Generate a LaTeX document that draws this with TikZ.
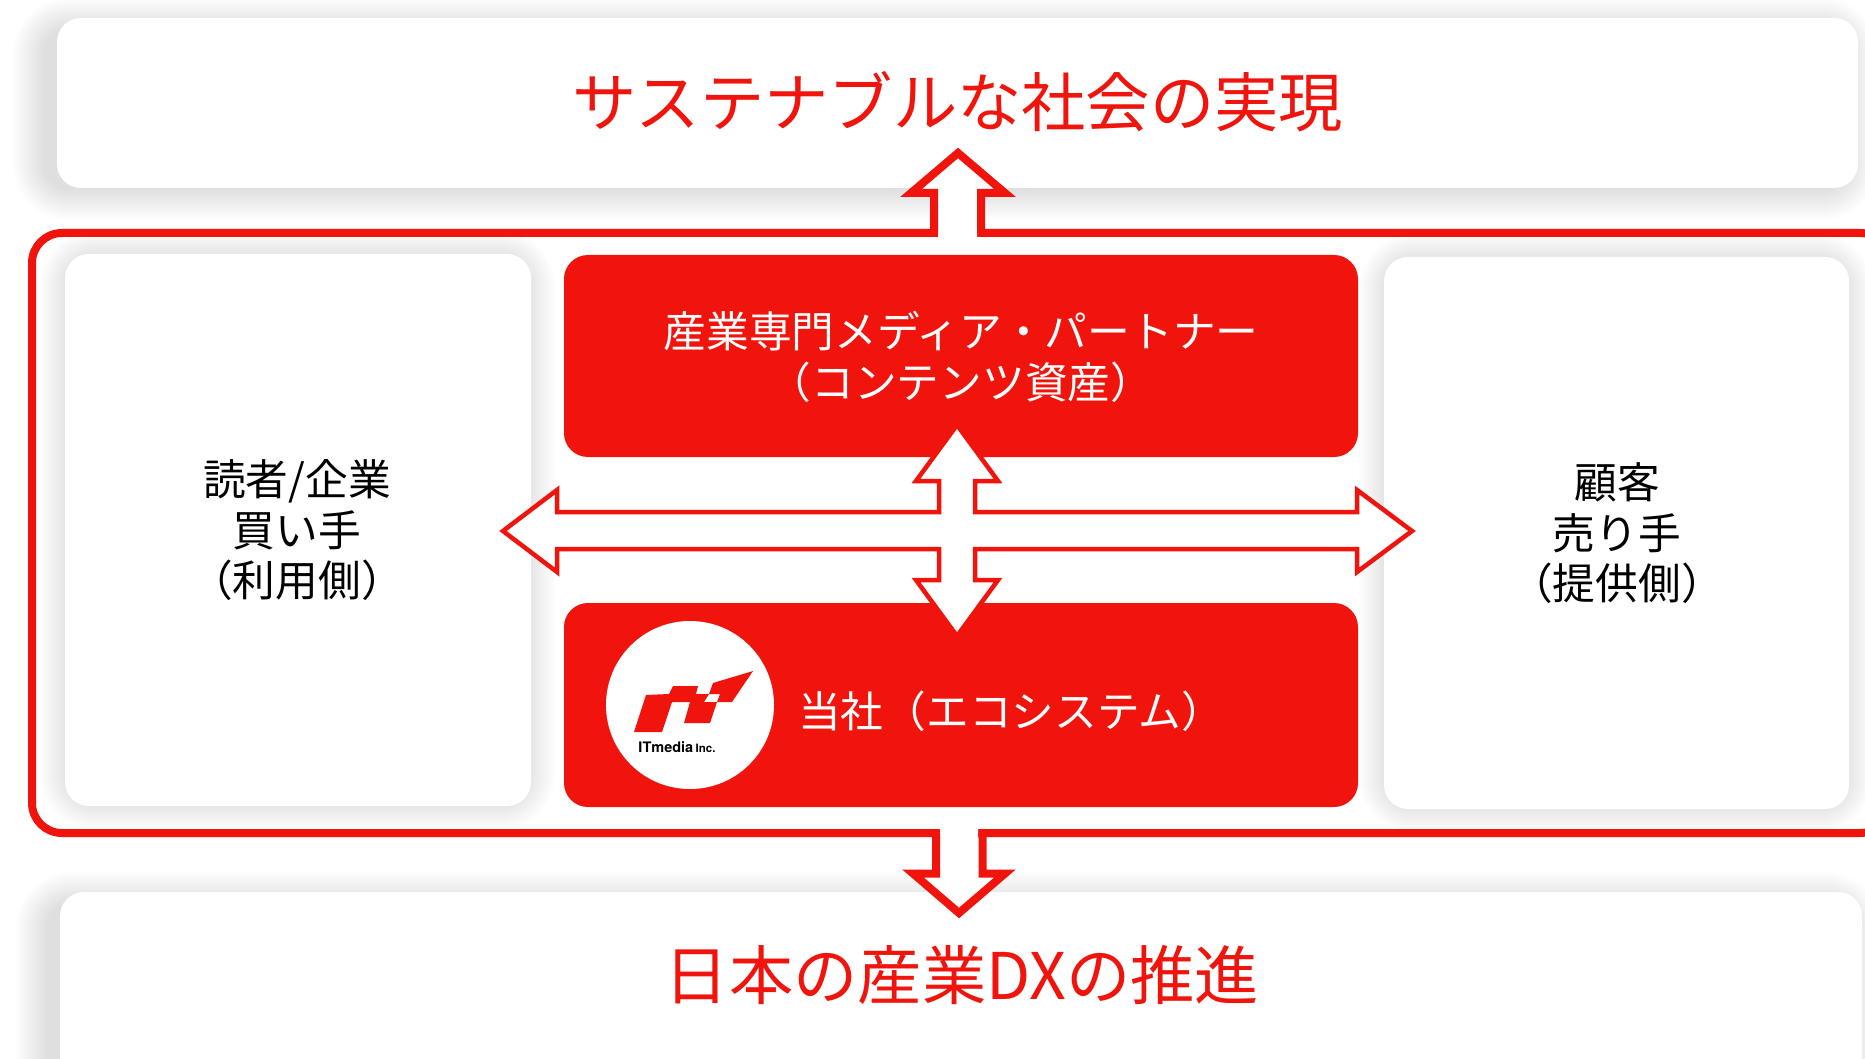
\documentclass[tikz,border=0pt]{standalone}
\usepackage{fontspec}
\setmainfont{Noto Sans CJK JP}
\newfontfamily\logofont{TeX Gyre Heros}
\usepackage{tikz}
\usetikzlibrary{positioning,calc}

\definecolor{itred}{HTML}{F1140C}

\tikzset{
    softlayer/.style={fill=black,opacity=0.007},
    whitepanel/.style={fill=white,rounded corners=24pt},
    redpanel/.style={fill=itred,rounded corners=24pt},
    titletext/.style={text=itred,font=\fontsize{64.3pt}{70pt}\selectfont,inner sep=0pt},
    boxtext/.style={align=center,font=\fontsize{42.7pt}{50.5pt}\selectfont,inner sep=0pt},
    blockarrow/.style={draw=itred,line width=4.5pt,fill=white,miter limit=10},
}

% blurred shadow under a panel: x1,y1,x2,y2,shift x
\newcommand{\softshadow}[5]{
    \foreach \k in {1,...,16}
        \fill[softlayer,rounded corners=(24+2*\k)*1pt]
            (#1-2*\k+#5,#2-2*\k) rectangle (#3+2*\k+#5,#4+2*\k);
}

\begin{document}
\begin{tikzpicture}[x=1pt,y=-1pt]
    \useasboundingbox (0,0) rectangle (1865,1059);
    \fill[white] (0,0) rectangle (1865,1059);

    % Top and bottom panels
    \softshadow{57}{30}{1858}{188}{-12}
    \softshadow{60}{904}{1862}{1090}{-12}
    \fill[whitepanel] (57,18) rectangle (1858,188);
    \fill[whitepanel] (60,892) rectangle (1862,1090);

    % Side panels
    \softshadow{72}{262}{523}{798}{0}
    \softshadow{1391}{265}{1841}{801}{0}
    \fill[whitepanel] (65,254) rectangle (531,806);
    \fill[whitepanel] (1384,257) rectangle (1849,809);

    % Red frame
    \draw[itred,line width=8pt,rounded corners=30pt] (32,233) rectangle (1890,833);

    % Middle panels
    \fill[redpanel] (564,255) rectangle (1358,457);
    \fill[redpanel] (564,603) rectangle (1358,807);

    % Logo
    \fill[white] (690,705) circle (84);
    \fill[itred] (634,732) -- (646,695) -- (669,694) -- (673,686) -- (698,686)
        -- (696,694) -- (709,694) -- (704,702) -- (717,702) -- (710,723) -- (684,723)
        -- (690,702) -- (672,702) -- (662,732) -- cycle;
    \fill[itred] (713,683) -- (753,671) -- (732,702) -- (717,702) -- (720,694) -- (709,694) -- cycle;
    \node[inner sep=0pt,font=\logofont\bfseries\fontsize{14.5pt}{15pt}\selectfont] (logotext) at (677,747)
        {ITmedia\,{\fontsize{11.5pt}{12pt}\selectfont Inc.}};

    % Cross arrow
    \draw[blockarrow] (957,425) -- (998,481) -- (975,481) -- (975,512) -- (1357,512)
        -- (1357,490) -- (1412,531) -- (1357,572) -- (1357,549) -- (975,549)
        -- (975,580) -- (998,580) -- (957,636) -- (916,580) -- (939,580)
        -- (939,549) -- (557,549) -- (557,572) -- (503,531) -- (557,490)
        -- (557,512) -- (939,512) -- (939,481) -- (916,481) -- cycle;

    % Up arrow
    \fill[white] (938,243) -- (938,193) -- (911,193) -- (958,153) -- (1005,193) -- (977,193) -- (977,243) -- cycle;
    \draw[itred,line width=8pt,miter limit=10] (934,233) -- (934,193) -- (911,193) -- (958,153)
        -- (1005,193) -- (981,193) -- (981,233);

    % Down arrow
    \fill[white] (940,828) -- (940,873.5) -- (913,873.5) -- (959,913) -- (1005,873.5) -- (978,873.5) -- (978,828) -- cycle;
    \draw[itred,line width=8pt,miter limit=10] (936,833) -- (936,873.5) -- (913,873.5) -- (959,913)
        -- (1005,873.5) -- (982.5,873.5) -- (982.5,833);

    % Texts
    \node[titletext] (goaltext) at (958,102) {サステナブルな社会の実現};
    \node[titletext] (dxtext) at (962,975) {日本の産業DXの推進};
    \node[boxtext,text=white] (mediatext) at (961,357) {産業専門メディア・パートナー\\（コンテンツ資産）};
    \node[boxtext,text=white,anchor=west] (ecotext) at (798,711) {当社（エコシステム）};
    \node[boxtext] (buyertext) at (297,530.5) {読者/企業\\買い手\\（利用側）};
    \node[boxtext] (sellertext) at (1617,533.5) {顧客\\売り手\\（提供側）};
\end{tikzpicture}
\end{document}
